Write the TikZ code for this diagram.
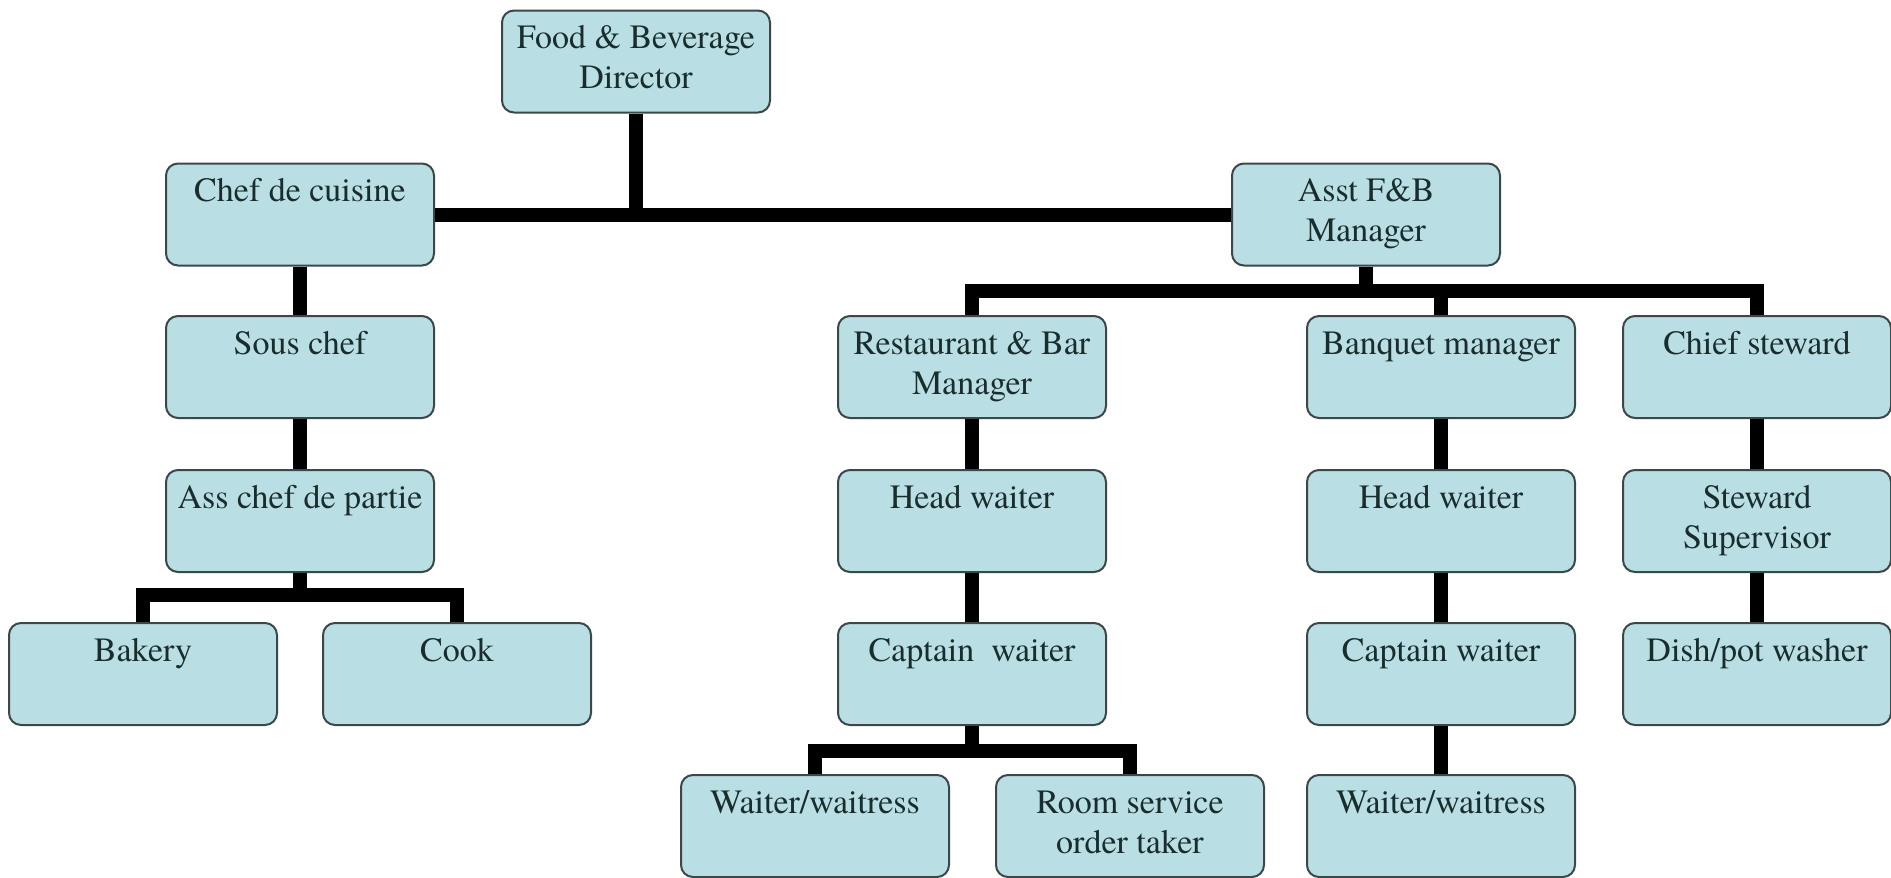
\documentclass[tikz,border=0pt]{standalone}
\usepackage{fontspec}
\setmainfont{texgyretermes}[Extension=.otf, UprightFont=*-regular, BoldFont=*-bold, ItalicFont=*-italic, BoldItalicFont=*-bolditalic]
\definecolor{boxfill}{RGB}{185,222,228}
\definecolor{boxline}{RGB}{60,72,72}
\definecolor{boxtext}{RGB}{25,45,45}
\newcommand{\boxtxt}[1]{\parbox[c][51pt][t]{134pt}{\centering\fontsize{17}{20}\selectfont\rule{0pt}{19pt}#1}}
\tikzset{
  orgbox/.style={draw=boxline, line width=1pt, fill=boxfill, rounded corners=6pt,
    inner sep=0pt, minimum width=134pt, minimum height=51pt, text=boxtext},
  link/.style={line width=7pt, black, line join=miter, line cap=butt}
}
\begin{document}
\begin{tikzpicture}[x=0.5pt, y=-0.5pt]
\useasboundingbox (0,0) rectangle (1891,878);
% nodes
\node[orgbox] (dir) at (636,61.5) {\boxtxt{Food \& Beverage\\Director}};
\node[orgbox] (chef) at (300,214.5) {\boxtxt{Chef de cuisine}};
\node[orgbox] (asst) at (1366,214.5) {\boxtxt{Asst F\&B\\Manager}};
\node[orgbox] (sous) at (300,367) {\boxtxt{Sous chef}};
\node[orgbox] (asc) at (300,521) {\boxtxt{Ass chef de partie}};
\node[orgbox] (bak) at (143,674) {\boxtxt{Bakery}};
\node[orgbox] (cook) at (457,674) {\boxtxt{Cook}};
\node[orgbox] (rb) at (972,367) {\boxtxt{Restaurant \& Bar\\Manager}};
\node[orgbox] (hw1) at (972,521) {\boxtxt{Head waiter}};
\node[orgbox] (cw1) at (972,674) {\boxtxt{Captain\ \ waiter}};
\node[orgbox] (ww1) at (815,826) {\boxtxt{Waiter/waitress}};
\node[orgbox] (rs) at (1130,826) {\boxtxt{Room service\\order taker}};
\node[orgbox] (bq) at (1441,367) {\boxtxt{Banquet manager}};
\node[orgbox] (hw2) at (1441,521) {\boxtxt{Head waiter}};
\node[orgbox] (cw2) at (1441,674) {\boxtxt{Captain waiter}};
\node[orgbox] (ww2) at (1441,826) {\boxtxt{Waiter/waitress}};
\node[orgbox] (cs) at (1757,367) {\boxtxt{Chief steward}};
\node[orgbox] (ss) at (1757,521) {\boxtxt{Steward\\Supervisor}};
\node[orgbox] (dw) at (1757,674) {\boxtxt{Dish/pot washer}};
% bus coordinates
\coordinate (busA) at (300,595);
\coordinate (busB) at (1366,291);
\coordinate (busC) at (972,751);
% connectors
\draw[link] (chef.east) -- (asst.west);
\draw[link] (dir.south) -- (dir.south |- chef.east);
\draw[link] (chef) -- (sous);
\draw[link] (sous) -- (asc);
\draw[link] (asc.south) -- (busA);
\draw[link] (bak.north) |- (busA) -| (cook.north);
\draw[link] (asst.south) -- (busB);
\draw[link] (rb.north) |- (busB) -| (cs.north);
\draw[link] (bq.north) -- (bq.north |- busB);
\draw[link] (rb) -- (hw1);
\draw[link] (hw1) -- (cw1);
\draw[link] (cw1.south) -- (busC);
\draw[link] (ww1.north) |- (busC) -| (rs.north);
\draw[link] (bq) -- (hw2);
\draw[link] (hw2) -- (cw2);
\draw[link] (cw2) -- (ww2);
\draw[link] (cs) -- (ss);
\draw[link] (ss) -- (dw);
\end{tikzpicture}
\end{document}
